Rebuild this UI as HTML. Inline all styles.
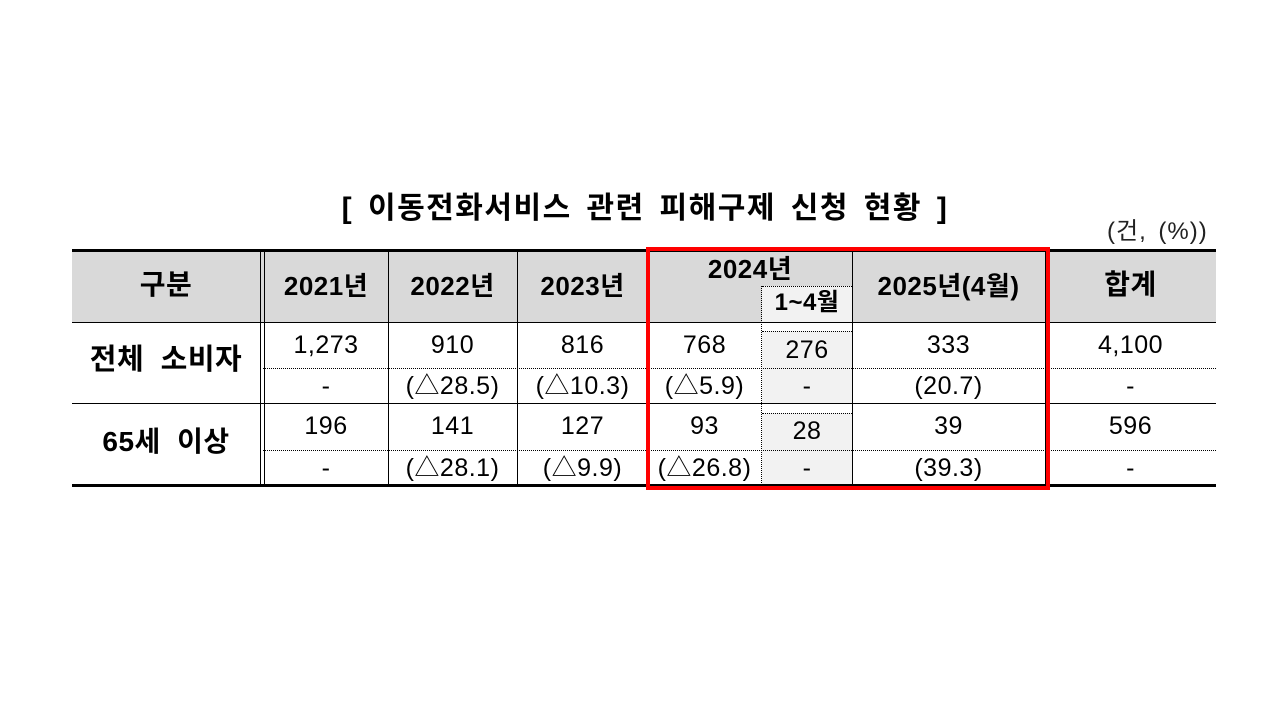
<!DOCTYPE html>
<html><head><meta charset="utf-8"><style>
body{margin:0;width:1280px;height:720px;background:#fff;position:relative;overflow:hidden;font-family:"Liberation Sans","Noto Sans CJK KR","NanumGothic",sans-serif;color:#000}
.a{position:absolute}
.t{position:absolute;text-align:center;font-size:25px;line-height:30px;letter-spacing:0.5px}
.b{font-weight:bold;font-size:26px}
.hl{position:absolute;height:0;border-top:1px solid #000}
.dl{position:absolute;height:0;border-top:1px dotted #000}
.vl{position:absolute;width:0;border-left:1px solid #000}
.vd{position:absolute;width:0;border-left:1px dotted #000}
</style></head><body>
<div class="a" style="left:0;width:1290px;top:191px;text-align:center;font-weight:bold;font-size:30px;line-height:36px;letter-spacing:1.5px;word-spacing:5px">[ 이동전화서비스 관련 피해구제 신청 현황 ]</div>
<div class="a" style="left:1107px;top:218px;font-size:24px;line-height:28px;color:#222;letter-spacing:1px;word-spacing:4px">(건, (%))</div>

<div class="a" style="left:72px;top:251px;width:1144px;height:71px;background:#d9d9d9"></div>
<div class="a" style="left:762px;top:286px;width:90px;height:36px;background:#f2f2f2"></div>
<div class="a" style="left:762px;top:331px;width:90px;height:37px;background:#f2f2f2"></div>
<div class="a" style="left:762px;top:368px;width:90px;height:35px;background:#f2f2f2"></div>
<div class="a" style="left:762px;top:413px;width:90px;height:37px;background:#f2f2f2"></div>
<div class="a" style="left:762px;top:450px;width:90px;height:35px;background:#f2f2f2"></div>

<div class="a" style="left:72px;top:249px;width:1144px;height:3px;background:#000"></div>
<div class="a" style="left:72px;top:484px;width:1144px;height:3px;background:#000"></div>
<div class="hl" style="left:72px;top:322px;width:1144px"></div>
<div class="hl" style="left:72px;top:403px;width:1144px"></div>
<div class="dl" style="left:263px;top:368px;width:953px"></div>
<div class="dl" style="left:263px;top:450px;width:953px"></div>
<div class="dl" style="left:762px;top:286px;width:90px"></div>
<div class="dl" style="left:762px;top:331px;width:90px"></div>
<div class="dl" style="left:762px;top:413px;width:90px"></div>

<div class="vl" style="left:260px;top:251px;height:234px"></div>
<div class="vl" style="left:264px;top:251px;height:234px"></div>
<div class="vl" style="left:388px;top:251px;height:234px"></div>
<div class="vl" style="left:517px;top:251px;height:234px"></div>
<div class="vl" style="left:852px;top:251px;height:234px"></div>
<div class="vl" style="left:1045px;top:251px;height:234px"></div>
<div class="vd" style="left:761px;top:286px;height:199px"></div>

<div class="a" style="left:646px;top:247px;width:396px;height:235px;border:4px solid #f00"></div>

<div class="t b" style="left:72px;width:188px;top:270px;font-size:28px">구분</div>
<div class="t b" style="left:264px;width:124px;top:271px">2021년</div>
<div class="t b" style="left:388px;width:129px;top:271px">2022년</div>
<div class="t b" style="left:517px;width:131px;top:271px">2023년</div>
<div class="t b" style="left:648px;width:204px;top:254px">2024년</div>
<div class="t b" style="left:762px;width:90px;top:288px;font-size:24px">1~4월</div>
<div class="t b" style="left:852px;width:193px;top:271px">2025년(4월)</div>
<div class="t b" style="left:1045px;width:171px;top:270px;font-size:28px">합계</div>

<div class="t b" style="left:72px;width:188px;top:345px;font-size:29px;word-spacing:8px">전체 소비자</div>
<div class="t b" style="left:72px;width:188px;top:427px;font-size:28px;word-spacing:8px">65세 이상</div>

<div class="t" style="left:264px;width:124px;top:330px">1,273</div>
<div class="t" style="left:388px;width:129px;top:330px">910</div>
<div class="t" style="left:517px;width:131px;top:330px">816</div>
<div class="t" style="left:648px;width:113px;top:330px">768</div>
<div class="t" style="left:762px;width:90px;top:335px">276</div>
<div class="t" style="left:852px;width:193px;top:330px">333</div>
<div class="t" style="left:1045px;width:171px;top:330px">4,100</div>

<div class="t" style="left:264px;width:124px;top:371px">-</div>
<div class="t" style="left:388px;width:129px;top:371px">(△28.5)</div>
<div class="t" style="left:517px;width:131px;top:371px">(△10.3)</div>
<div class="t" style="left:648px;width:113px;top:371px">(△5.9)</div>
<div class="t" style="left:762px;width:90px;top:371px">-</div>
<div class="t" style="left:852px;width:193px;top:371px">(20.7)</div>
<div class="t" style="left:1045px;width:171px;top:371px">-</div>

<div class="t" style="left:264px;width:124px;top:411px">196</div>
<div class="t" style="left:388px;width:129px;top:411px">141</div>
<div class="t" style="left:517px;width:131px;top:411px">127</div>
<div class="t" style="left:648px;width:113px;top:411px">93</div>
<div class="t" style="left:762px;width:90px;top:416px">28</div>
<div class="t" style="left:852px;width:193px;top:411px">39</div>
<div class="t" style="left:1045px;width:171px;top:411px">596</div>

<div class="t" style="left:264px;width:124px;top:453px">-</div>
<div class="t" style="left:388px;width:129px;top:453px">(△28.1)</div>
<div class="t" style="left:517px;width:131px;top:453px">(△9.9)</div>
<div class="t" style="left:648px;width:113px;top:453px">(△26.8)</div>
<div class="t" style="left:762px;width:90px;top:453px">-</div>
<div class="t" style="left:852px;width:193px;top:453px">(39.3)</div>
<div class="t" style="left:1045px;width:171px;top:453px">-</div>
</body></html>
